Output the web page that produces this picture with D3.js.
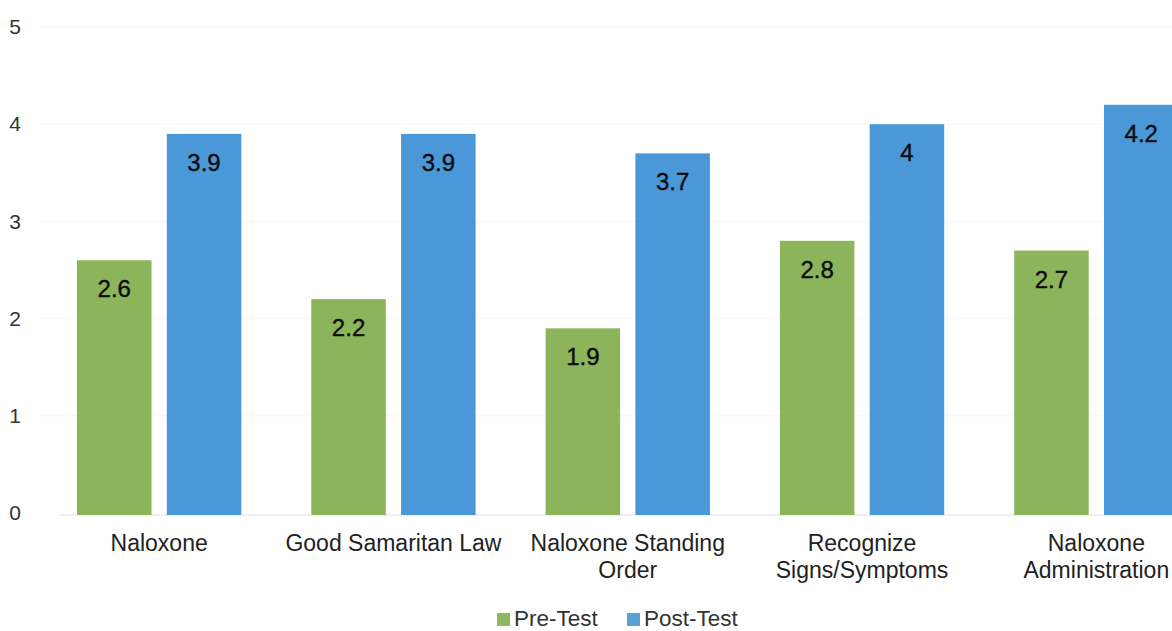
<!DOCTYPE html>
<html>
<head>
<meta charset="utf-8">
<script src="https://cdn.jsdelivr.net/npm/d3@7/dist/d3.min.js"></script>
<style>
  html, body { margin: 0; padding: 0; background: #fff; }
  svg { display: block; font-family: "Liberation Sans", Arial, sans-serif; }
</style>
</head>
<body>
<svg id="chart" width="1172" height="631"></svg>
<script>
// Survey topics and mean scores before / after training
const categories = [
  ["Naloxone"],
  ["Good Samaritan Law"],
  ["Naloxone Standing", "Order"],
  ["Recognize", "Signs/Symptoms"],
  ["Naloxone", "Administration"]
];
const seriesNames = ["Pre-Test", "Post-Test"];
const preTest  = [2.6, 2.2, 1.9, 2.8, 2.7];
const postTest = [3.9, 3.9, 3.7, 4.0, 4.2];
const yTicks = [0, 1, 2, 3, 4, 5];
const colors = ["#8cb45a", "#4a98d8"];
const legendColors = ["#8fb860", "#58a2d4"];

const svg = d3.select("#chart");
const keys = categories.map(c => c.join(" "));
const values = [preTest, postTest];

const x0 = d3.scaleBand().domain(keys).range([42, 1213.5]).paddingInner(0).paddingOuter(0);
const x1 = d3.scaleBand().domain(seriesNames).range([35, x0.bandwidth() - 35]).paddingInner(0.17);
const y = d3.scaleLinear().domain([0, 5]).range([513, 27]);

// faint gridlines
svg.append("g").selectAll("line").data(yTicks.slice(1)).join("line")
  .attr("x1", 40).attr("x2", 1172)
  .attr("y1", d => y(d)).attr("y2", d => y(d))
  .attr("stroke", "#f4f4f4").attr("stroke-width", 1);

// y axis labels
const yAxis = d3.axisLeft(y).tickValues(yTicks).tickSize(0).tickPadding(0).tickFormat(d3.format("d"));
const gy = svg.append("g").attr("transform", "translate(22,0)").call(yAxis);
gy.select(".domain").remove();
gy.selectAll("text").attr("font-size", 21).attr("fill", "#333")
  .attr("text-anchor", "middle").attr("dx", -7).attr("font-family", "Liberation Sans, Arial, sans-serif");

// baseline
svg.append("line").attr("x1", 60).attr("x2", 1172).attr("y1", y(0) + 2).attr("y2", y(0) + 2)
  .attr("stroke", "#e2e2e2").attr("stroke-width", 1);

// bars
const groups = svg.append("g").selectAll("g").data(keys).join("g")
  .attr("transform", d => `translate(${x0(d)},0)`);

groups.each(function(k, i) {
  const g = d3.select(this);
  seriesNames.forEach((s, j) => {
    const v = values[j][i];
    g.append("rect")
      .attr("x", x1(s)).attr("width", x1.bandwidth())
      .attr("y", y(v)).attr("height", y(0) + 2 - y(v))
      .attr("fill", colors[j]);
    g.append("text")
      .attr("x", x1(s) + x1.bandwidth() / 2)
      .attr("y", y(v) + 37)
      .attr("text-anchor", "middle")
      .attr("font-size", 24).attr("fill", "#0d0d0d")
      .attr("stroke", "#0d0d0d").attr("stroke-width", 0.4)
      .text(d3.format("~g")(v));
  });
});

// category labels
groups.append("text")
  .attr("x", x0.bandwidth() / 2)
  .attr("y", 551)
  .attr("text-anchor", "middle")
  .attr("font-size", 23).attr("fill", "#222")
  .each(function(k, i) {
    const t = d3.select(this);
    categories[i].forEach((line, li) => {
      t.append("tspan").attr("x", x0.bandwidth() / 2).attr("dy", li === 0 ? 0 : 27).text(line);
    });
  });

// legend
const legend = svg.append("g").attr("transform", "translate(497,626)");
const legendX = [0, 130];
seriesNames.forEach((s, j) => {
  const lg = legend.append("g").attr("transform", `translate(${legendX[j]},0)`);
  lg.append("rect").attr("x", 0).attr("y", -13).attr("width", 13).attr("height", 13).attr("fill", legendColors[j]);
  lg.append("text").attr("x", 17).attr("y", 0).attr("font-size", 22.5).attr("fill", "#333").text(s);
});
</script>
</body>
</html>
